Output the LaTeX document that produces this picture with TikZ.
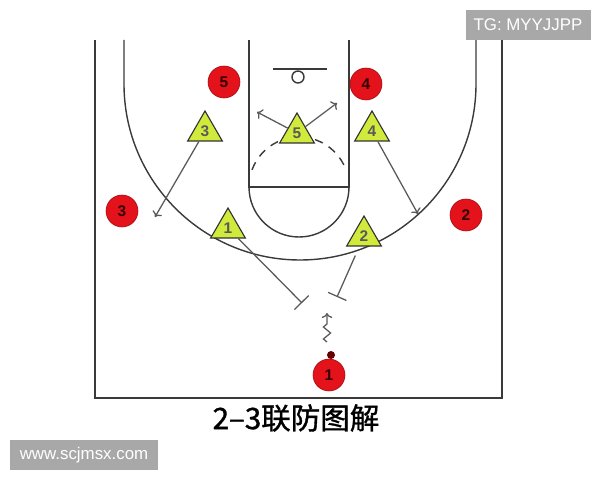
\documentclass[tikz,border=0pt]{standalone}
\usepackage{fontspec}
\setmainfont{Liberation Sans}
\newfontfamily\cjk[FakeBold=1.2]{Noto Sans CJK SC}
\usepackage{xcolor}
\usetikzlibrary{shapes.geometric,arrows.meta,decorations.pathmorphing}

\definecolor{plred}{HTML}{E3121B}
\definecolor{dfgreen}{HTML}{D2EA3C}
\definecolor{court}{HTML}{3A3A3A}
\definecolor{mark}{HTML}{A8A8A8}

\begin{document}
\begin{tikzpicture}[x=0.25mm,y=0.25mm]
    \tikzstyle{O}=[circle,draw=plred!70!black,fill=plred,minimum size=8mm,inner sep=0pt,font=\bfseries\fontsize{11}{11}\selectfont,text=black!80!red]
    \tikzstyle{D}=[regular polygon,regular polygon sides=3,draw=black!80,thick,fill=dfgreen,minimum size=10mm,inner sep=0pt,font=\bfseries\fontsize{11}{11}\selectfont,text=black!65]
    \tikzstyle{M}=[fill=mark,text=white,inner sep=0pt,minimum height=7.5mm,font=\fontsize{12}{12}\selectfont]
    \tikzstyle{R}=[line width=0.9pt,draw=black!65]

    \useasboundingbox (0,0) rectangle (600,480);

    % Court
    \draw [court,line width=1.3pt] (95,440) -- (95,82) -- (502,82) -- (502,440);
    \draw [court,line width=1pt] (124,440) -- (124,396)
        arc[start angle=180,end angle=360,radius=176] -- (476,440);
    \draw [court,line width=1pt] (249,440) -- (249,293) -- (349,293) -- (349,440);
    \coordinate (FT) at (299,293);
    \draw [court,line width=1pt] (249,293) arc[start angle=180,end angle=360,radius=50];
    \draw [court,line width=1pt,dashed,dash pattern=on 6pt off 5pt] (FT) ++(160:50)
        arc[start angle=160,end angle=20,radius=50];
    % Basket
    \draw [court,line width=1pt] (273,411) -- (327,411);
    \draw [court,line width=1pt] (298,403) circle (6);

    % Defence
    \node [D] (T3) at (205,349) {3};
    \node [D] (T5) at (297,347) {5};
    \node [D] (T4) at (372,349) {4};
    \node [D] (T1) at (228,252) {1};
    \node [D] (T2) at (364,244) {2};

    % Offence
    \node [O] (P5) at (224,398) {5};
    \node [O] (P4) at (366,396) {4};
    \node [O] (P3) at (122,269) {3};
    \node [O] (P2) at (466,265) {2};
    \node [O] (P1) at (329,105) {1};
    \fill [black!60!red] (331,125) circle (4);

    % Moves
    \coordinate (a5l) at (257,368);
    \coordinate (a5r) at (337,377);
    \coordinate (a3) at (155,263);
    \coordinate (a4) at (418,266);
    \coordinate (s1) at (302,177);
    \coordinate (s2) at (337,183);
    \coordinate (d0) at (327,138);
    \coordinate (d1) at (327,167);

    \draw [R,->] (T5) -- (a5l);
    \draw [R,->] (T5) -- (a5r);
    \draw [R,->] (T3) -- (a3);
    \draw [R,->] (T4) -- (a4);
    \draw [R,-{Bar[width=5mm]}] (T1) -- (s1);
    \draw [R,-{Bar[width=5mm]},shorten <=7pt] (T2) -- (s2);
    \draw [R,->,decorate,
        decoration={zigzag,amplitude=0.9mm,segment length=3mm,post length=1.5mm}] (d0) -- (d1);

    % Caption
    \node (title) at (296,62) {\cjk\fontsize{21}{25}\selectfont 2–3联防图解};

    % Marks
    \node [M,minimum width=31.25mm] (tg) at (528,455) {TG: MYYJJPP};
    \node [M,minimum width=37mm] (web) at (84,25) {www.scjmsx.com};
\end{tikzpicture}
\end{document}
